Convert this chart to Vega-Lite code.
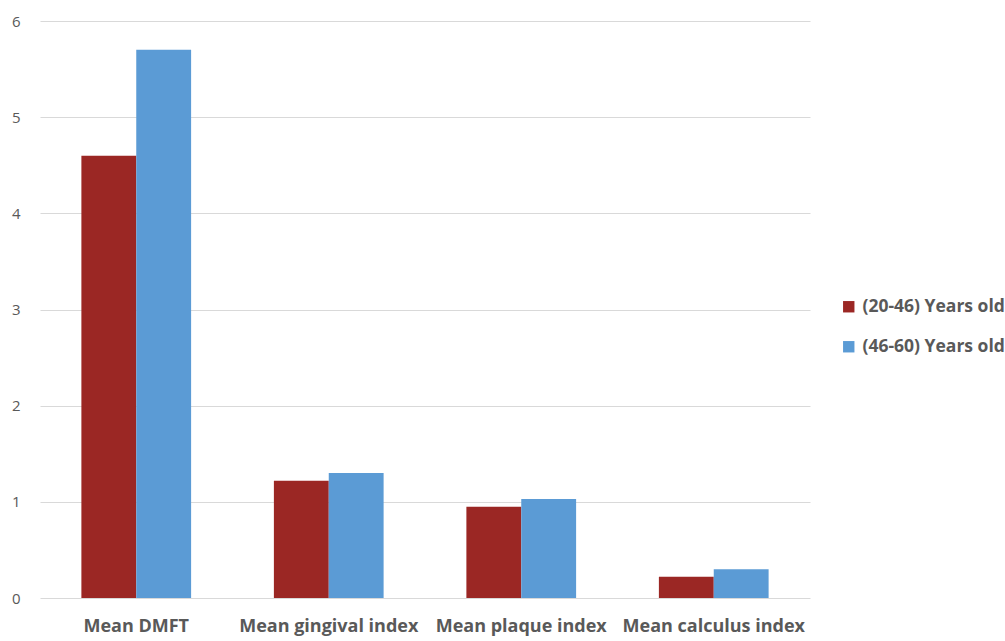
{
  "$schema": "https://vega.github.io/schema/vega-lite/v6.json",
  "width": 770,
  "height": 577,
  "autosize": {"type": "none"},
  "padding": {"left": 40, "top": 21, "right": 195, "bottom": 43},
  "background": "white",
  "view": {"stroke": null},
  "data": {
    "values": [
      {"measure": "Mean DMFT", "group": "(20-46) Years old", "value": 4.6},
      {"measure": "Mean DMFT", "group": "(46-60) Years old", "value": 5.7},
      {"measure": "Mean gingival index", "group": "(20-46) Years old", "value": 1.22},
      {"measure": "Mean gingival index", "group": "(46-60) Years old", "value": 1.3},
      {"measure": "Mean plaque index", "group": "(20-46) Years old", "value": 0.95},
      {"measure": "Mean plaque index", "group": "(46-60) Years old", "value": 1.03},
      {"measure": "Mean calculus index", "group": "(20-46) Years old", "value": 0.22},
      {"measure": "Mean calculus index", "group": "(46-60) Years old", "value": 0.3}
    ]
  },
  "mark": {"type": "bar"},
  "encoding": {
    "x": {
      "field": "measure",
      "type": "nominal",
      "sort": null,
      "scale": {"paddingInner": 0.43, "paddingOuter": 0.215},
      "axis": {
        "title": null,
        "labelAngle": 0,
        "domain": false,
        "ticks": false,
        "labelPadding": 19,
        "labelLimit": 0,
        "labelFont": "Open Sans",
        "labelFontWeight": "bold",
        "labelFontSize": 18,
        "labelColor": "#595959"
      }
    },
    "xOffset": {"field": "group", "type": "nominal"},
    "y": {
      "field": "value",
      "type": "quantitative",
      "scale": {"domain": [0, 6], "nice": false},
      "axis": {
        "title": null,
        "values": [0, 1, 2, 3, 4, 5, 6],
        "domain": false,
        "ticks": false,
        "labelPadding": 20,
        "labelFont": "Open Sans",
        "labelFontSize": 15,
        "labelColor": "#595959",
        "gridColor": "#D9D9D9",
        "gridWidth": 1
      }
    },
    "color": {
      "field": "group",
      "type": "nominal",
      "scale": {"range": ["#9B2724", "#5B9BD5"]},
      "legend": {
        "title": null,
        "orient": "none",
        "legendX": 800,
        "legendY": 277,
        "symbolType": "square",
        "symbolSize": 130,
        "symbolStrokeWidth": 0,
        "symbolOpacity": 1,
        "rowPadding": 21,
        "labelLimit": 0,
        "labelFont": "Open Sans",
        "labelFontWeight": "bold",
        "labelFontSize": 17.5,
        "labelColor": "#595959",
        "labelOffset": 5
      }
    }
  }
}
